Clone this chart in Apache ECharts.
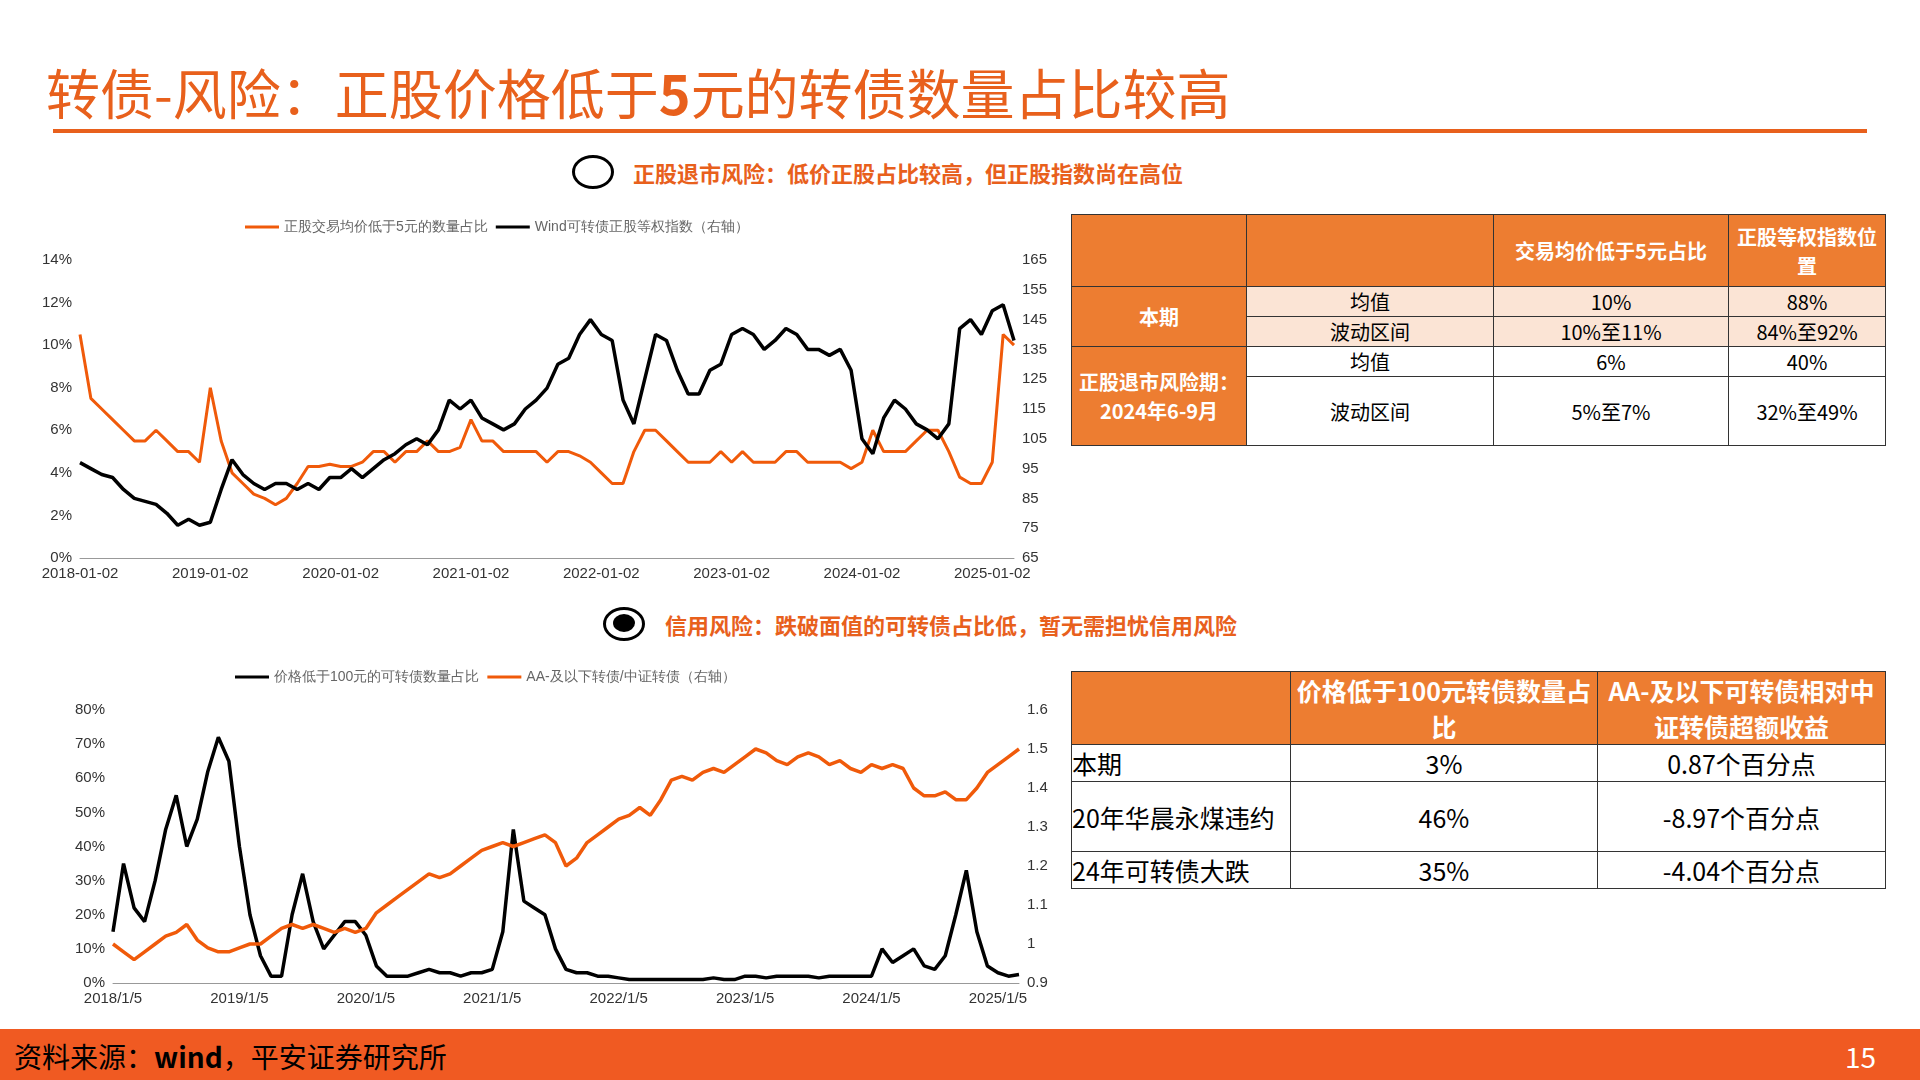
<!DOCTYPE html>
<html><head><meta charset="utf-8">
<script src="https://cdn.jsdelivr.net/npm/echarts@6/dist/echarts.min.js"></script>
<style>
body{margin:0;width:1920px;height:1080px;position:relative;background:#fff;font-family:"Noto Sans CJK SC",sans-serif;overflow:hidden}
.t{position:absolute}
table{border-collapse:collapse;position:absolute;font-family:"Noto Sans CJK SC";}
td{border:1px solid #333;text-align:center;padding:0}
.h{background:#ED7D31;color:#fff;font-weight:bold}
.l{background:#FBE4D5}
</style></head><body>
<div class="t" style="left:46px;top:52px;font-size:54px;color:#E8601C;">转债-风险：正股价格低于<b>5</b>元的转债数量占比较高</div>
<div class="t" style="left:53px;top:129px;width:1814px;height:4px;background:#E8601C"></div>
<div class="t" style="left:572px;top:155px;width:36px;height:28px;border:3px solid #000;border-radius:50%"></div>
<div class="t" style="left:633px;top:156px;font-size:22px;font-weight:bold;color:#E8601C">正股退市风险：低价正股占比较高，但正股指数尚在高位</div>
<div class="t" style="left:603px;top:607px;width:36px;height:28px;border:3px solid #000;border-radius:50%"></div>
<div class="t" style="left:613px;top:614px;width:22px;height:18px;background:#000;border-radius:50%"></div>
<div class="t" style="left:665px;top:608px;font-size:22px;font-weight:bold;color:#E8601C">信用风险：跌破面值的可转债占比低，暂无需担忧信用风险</div>
<div id="c1" class="t" style="left:0;top:205px;width:1060px;height:390px"></div>
<div id="c2" class="t" style="left:0;top:655px;width:1060px;height:370px"></div>
<table style="left:1071px;top:214px;width:815px;height:232px;font-size:20px">
<tr style="height:72px"><td class="h" style="width:174px"></td><td class="h" style="width:246px"></td><td class="h" style="width:234px">交易均价低于5元占比</td><td class="h">正股等权指数位置</td></tr>
<tr style="height:30px"><td class="h" rowspan="2">本期</td><td class="l">均值</td><td class="l">10%</td><td class="l">88%</td></tr>
<tr style="height:30px"><td class="l">波动区间</td><td class="l">10%至11%</td><td class="l">84%至92%</td></tr>
<tr style="height:30px"><td class="h" rowspan="2">正股退市风险期：2024年6-9月</td><td>均值</td><td>6%</td><td>40%</td></tr>
<tr><td>波动区间</td><td>5%至7%</td><td>32%至49%</td></tr>
</table>
<table style="left:1071px;top:671px;width:815px;height:209px;font-size:25px">
<tr style="height:70px"><td class="h" style="width:218px"></td><td class="h" style="width:306px">价格低于100元转债数量占比</td><td class="h">AA-及以下可转债相对中证转债超额收益</td></tr>
<tr style="height:34px"><td style="text-align:left">本期</td><td>3%</td><td>0.87个百分点</td></tr>
<tr style="height:70px"><td style="text-align:left">20年华晨永煤违约</td><td>46%</td><td>-8.97个百分点</td></tr>
<tr><td style="text-align:left">24年可转债大跌</td><td>35%</td><td>-4.04个百分点</td></tr>
</table>
<div class="t" style="left:0;top:1029px;width:1920px;height:51px;background:#F05A22"></div>
<div class="t" style="left:14px;top:1036px;font-size:28px;color:#000">资料来源：<b>wind</b>，平安证券研究所</div>
<div class="t" style="left:1845px;top:1036px;font-size:28px;color:#fff">15</div>
<script>
const months1=[];for(let y=2018;y<=2025;y++)for(let m=1;m<=12;m++){if(y==2025&&m>3)break;months1.push(y+'-'+String(m).padStart(2,'0')+'-02');}
const months2=months1.map(s=>{const p=s.split('-');return p[0]+'/'+(+p[1])+'/5';});
const lowPricePct=[10.5,7.5,7,6.5,6,5.5,5.5,6,5.5,5,5,4.5, 8,5.5,4,3.5,3,2.8,2.5,2.8,3.5,4.3,4.3,4.4, 4.3,4.3,4.5,5,5,4.5,5,5,5.5,5,5,5.2, 6.5,5.5,5.5,5,5,5,5,4.5,5,5,4.8,4.5, 4,3.5,3.5,5,6,6,5.5,5,4.5,4.5,4.5,5, 4.5,5,4.5,4.5,4.5,5,5,4.5,4.5,4.5,4.5,4.2, 4.5,6,5,5,5,5.5,6,6,5,3.8,3.5,3.5, 4.5,10.5,10];
const stockIndex=[97,95,93,92,88,85,84,83,80,76,78,76, 77,88,98,93,90,88,90,90,88,90,88,92, 92,95,92,95,98,100,103,105,103,108,118,115, 118,112,110,108,110,115,118,122,130,132,140,145, 140,138,118,110,125,140,138,128,120,120,128,130, 140,142,140,135,138,142,140,135,135,133,135,128, 105,100,112,118,115,110,108,105,110,142,145,140, 148,150,138];
const below100Pct=[15,35,22,18,30,45,55,40,48,62,72,65, 40,20,8,2,2,20,32,18,10,14,18,18, 14,5,2,2,2,3,4,3,3,2,3,3, 4,15,45,24,22,20,10,4,3,3,2,2, 1.5,1,1,1,1,1,1,1,1,1.5,1,1, 2,2,1.5,2,2,2,2,1.5,2,2,2,2, 2,10,6,8,10,5,4,8,20,33,15,5, 3,2,2.5];
const aaRatio=[1.0,0.98,0.96,0.98,1.0,1.02,1.03,1.05,1.01,0.99,0.98,0.98, 0.99,1.0,1.0,1.02,1.04,1.05,1.04,1.05,1.04,1.03,1.04,1.03, 1.04,1.08,1.1,1.12,1.14,1.16,1.18,1.17,1.18,1.2,1.22,1.24, 1.25,1.26,1.25,1.26,1.27,1.28,1.26,1.2,1.22,1.26,1.28,1.3, 1.32,1.33,1.35,1.33,1.37,1.42,1.43,1.42,1.44,1.45,1.44,1.46, 1.48,1.5,1.49,1.47,1.46,1.48,1.49,1.48,1.46,1.47,1.45,1.44, 1.46,1.45,1.46,1.45,1.4,1.38,1.38,1.39,1.37,1.37,1.4,1.44, 1.46,1.48,1.5];
const OR='#F05A0A',ax={color:'#333',fontSize:15};
const base=(cats,g)=>({animation:false,grid:g,
 xAxis:{type:'category',data:cats,boundaryGap:false,axisLine:{lineStyle:{color:'#999'}},axisTick:{show:false},axisLabel:Object.assign({interval:11},ax),splitLine:{show:false}}});
const c1=echarts.init(document.getElementById('c1'));
c1.setOption(Object.assign(base(months1,{left:80,right:46,top:55,bottom:37}),{
 legend:{top:10,left:240,itemWidth:34,itemHeight:3,textStyle:{color:'#666',fontSize:14},icon:'rect'},
 yAxis:[{type:'value',min:0,max:14,interval:2,axisLabel:Object.assign({formatter:'{value}%'},ax),splitLine:{show:false}},
  {type:'value',min:65,max:165,interval:10,axisLabel:ax,splitLine:{show:false}}],
 series:[{name:'正股交易均价低于5元的数量占比',type:'line',data:lowPricePct,symbol:'none',lineStyle:{color:OR,width:3},itemStyle:{color:OR}},
  {name:'Wind可转债正股等权指数（右轴）',type:'line',yAxisIndex:1,data:stockIndex,symbol:'none',lineStyle:{color:'#000',width:3.5},itemStyle:{color:'#000'}}]}));
const c2=echarts.init(document.getElementById('c2'));
c2.setOption(Object.assign(base(months2,{left:113,right:41,top:55,bottom:42}),{
 legend:{top:10,left:230,itemWidth:34,itemHeight:3,textStyle:{color:'#666',fontSize:14},icon:'rect'},
 yAxis:[{type:'value',min:0,max:80,interval:10,axisLabel:Object.assign({formatter:'{value}%'},ax),splitLine:{show:false}},
  {type:'value',min:0.9,max:1.6,interval:0.1,axisLabel:Object.assign({formatter:v=>(Math.round(v*10)/10).toString()},ax),splitLine:{show:false}}],
 series:[{name:'价格低于100元的可转债数量占比',type:'line',data:below100Pct,symbol:'none',lineStyle:{color:'#000',width:3.5},itemStyle:{color:'#000'}},
  {name:'AA-及以下转债/中证转债（右轴）',type:'line',yAxisIndex:1,data:aaRatio,symbol:'none',lineStyle:{color:OR,width:3.5},itemStyle:{color:OR}}]}));
</script></body></html>
